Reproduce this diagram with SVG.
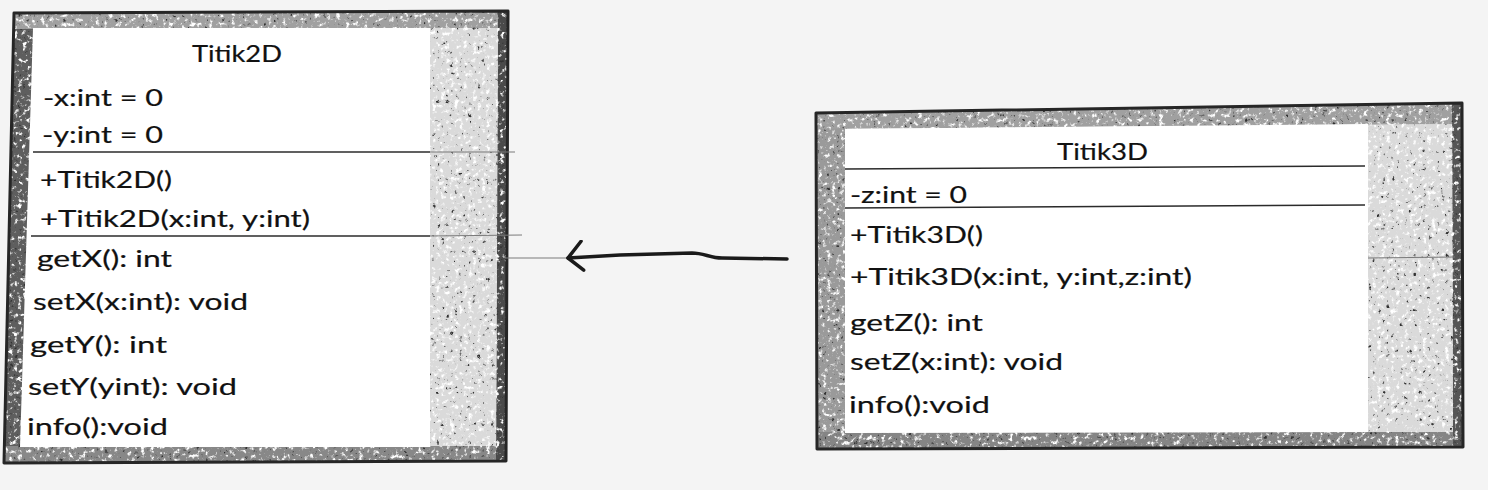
<svg xmlns="http://www.w3.org/2000/svg" width="1488" height="490" viewBox="0 0 1488 490">
<style>
.t{font-family:Lato,"Open Sans","DejaVu Sans",sans-serif;font-size:24px;fill:#111;stroke:#111;stroke-width:0.2}
.sep{stroke:#2b2b2b;stroke-width:1.6;fill:none}
.ext{stroke:#7a7a7a;stroke-width:1;fill:none}
.tex{filter:url(#grain)}
.edge{fill:none;stroke:#262626;stroke-width:3;stroke-linejoin:round}
.conn{fill:none;stroke:#1a1a1a;stroke-width:3.5;stroke-linecap:round;stroke-linejoin:round}
</style>
<defs>
<filter id="grain" x="0" y="0" width="1" height="1" color-interpolation-filters="sRGB">
<feTurbulence type="fractalNoise" baseFrequency="0.22" numOctaves="3" seed="4" result="n"/>
<feColorMatrix in="n" type="matrix" values="0 0 0 0 0.2  0 0 0 0 0.2  0 0 0 0 0.2  7 0 0 0 -4.8" result="d"/>
<feColorMatrix in="n" type="matrix" values="0 0 0 0 1  0 0 0 0 1  0 0 0 0 1  -5 0 0 0 2.2" result="w"/>
<feMerge result="m"><feMergeNode in="SourceGraphic"/><feMergeNode in="w"/><feMergeNode in="d"/></feMerge>
<feComposite in="m" in2="SourceGraphic" operator="in"/>
</filter>
<marker id="open" viewBox="-18 -17 22 34" refX="0" refY="0" markerWidth="22" markerHeight="34" markerUnits="userSpaceOnUse" orient="auto">
<path d="M-15,-13 L0,0 L-14,16" fill="none" stroke="#1a1a1a" stroke-width="3.5" stroke-linecap="round" stroke-linejoin="round"/>
</marker>
</defs>
<rect x="0" y="0" width="1488" height="490" fill="#f4f4f4"/>

<g id="titik2d">
<polygon class="tex" points="14,13 508,11 506,461 4,463" fill="#dadada"/>
<polygon class="tex" points="14,13 34,13 22,463 4,463" fill="#5e5e5e"/>
<polygon class="tex" points="14,13 508,11 508,28 14,29" fill="#a0a0a0"/>
<polygon class="tex" points="4,446 506,446 506,461 4,463" fill="#888888"/>
<polygon class="tex" points="498,11 508,11 506,461 496,461" fill="#4a4a4a"/>
<polygon class="edge" points="14,13 508,11 506,461 4,463"/>
<polygon points="33,28 430,28 430,447 20,447" fill="#ffffff"/>
<line class="sep" x1="33" y1="152" x2="430" y2="152"/>
<line class="ext" x1="430" y1="152" x2="515" y2="152"/>
<line class="sep" x1="31" y1="236" x2="430" y2="236"/>
<line class="ext" x1="430" y1="236" x2="522" y2="235"/>
<text class="t" x="192" y="62" textLength="90" lengthAdjust="spacingAndGlyphs">Titik2D</text>
<text class="t" x="43" y="106" textLength="120" lengthAdjust="spacingAndGlyphs">-x:int = 0</text>
<text class="t" x="42" y="143" textLength="121" lengthAdjust="spacingAndGlyphs">-y:int = 0</text>
<text class="t" x="40" y="188" textLength="132" lengthAdjust="spacingAndGlyphs">+Titik2D()</text>
<text class="t" x="40" y="227" textLength="270" lengthAdjust="spacingAndGlyphs">+Titik2D(x:int, y:int)</text>
<text class="t" x="37" y="267" textLength="135" lengthAdjust="spacingAndGlyphs">getX(): int</text>
<text class="t" x="33" y="310" textLength="215" lengthAdjust="spacingAndGlyphs">setX(x:int): void</text>
<text class="t" x="30" y="353" textLength="137" lengthAdjust="spacingAndGlyphs">getY(): int</text>
<text class="t" x="28" y="395" textLength="209" lengthAdjust="spacingAndGlyphs">setY(yint): void</text>
<text class="t" x="27" y="435" textLength="141" lengthAdjust="spacingAndGlyphs">info():void</text>
</g>

<g id="titik3d">
<polygon class="tex" points="816,113 1462,103 1463,447 817,449" fill="#dadada"/>
<polygon class="tex" points="816,113 845,113 845,449 817,449" fill="#9a9a9a"/>
<polygon class="tex" points="816,113 1462,103 1462,124 816,129" fill="#a0a0a0"/>
<polygon class="tex" points="817,432 1463,432 1463,447 817,449" fill="#858585"/>
<polygon class="tex" points="1452,103 1462,103 1463,447 1453,447" fill="#555555"/>
<polygon class="edge" points="816,113 1462,103 1463,447 817,449"/>
<polygon points="845,129 1368,124 1368,432 845,433" fill="#ffffff"/>
<line class="sep" x1="845" y1="169" x2="1365" y2="166"/>
<line class="sep" x1="845" y1="208" x2="1365" y2="205"/>
<line class="ext" x1="1368" y1="258" x2="1455" y2="257"/>
<text class="t" x="1057" y="160" textLength="91" lengthAdjust="spacingAndGlyphs">Titik3D</text>
<text class="t" x="850" y="203" textLength="117" lengthAdjust="spacingAndGlyphs">-z:int = 0</text>
<text class="t" x="850" y="243" textLength="133" lengthAdjust="spacingAndGlyphs">+Titik3D()</text>
<text class="t" x="850" y="285" textLength="342" lengthAdjust="spacingAndGlyphs">+Titik3D(x:int, y:int,z:int)</text>
<text class="t" x="850" y="331" textLength="133" lengthAdjust="spacingAndGlyphs">getZ(): int</text>
<text class="t" x="850" y="370" textLength="213" lengthAdjust="spacingAndGlyphs">setZ(x:int): void</text>
<text class="t" x="849" y="413" textLength="141" lengthAdjust="spacingAndGlyphs">info():void</text>
</g>

<g id="connectors">
<line class="ext" x1="505" y1="258" x2="567" y2="258"/>
<path class="conn" d="M787,259 L722,258 C710,258 704,253 692,253 L620,255 L568,258" marker-end="url(#open)"/>
</g>
</svg>
